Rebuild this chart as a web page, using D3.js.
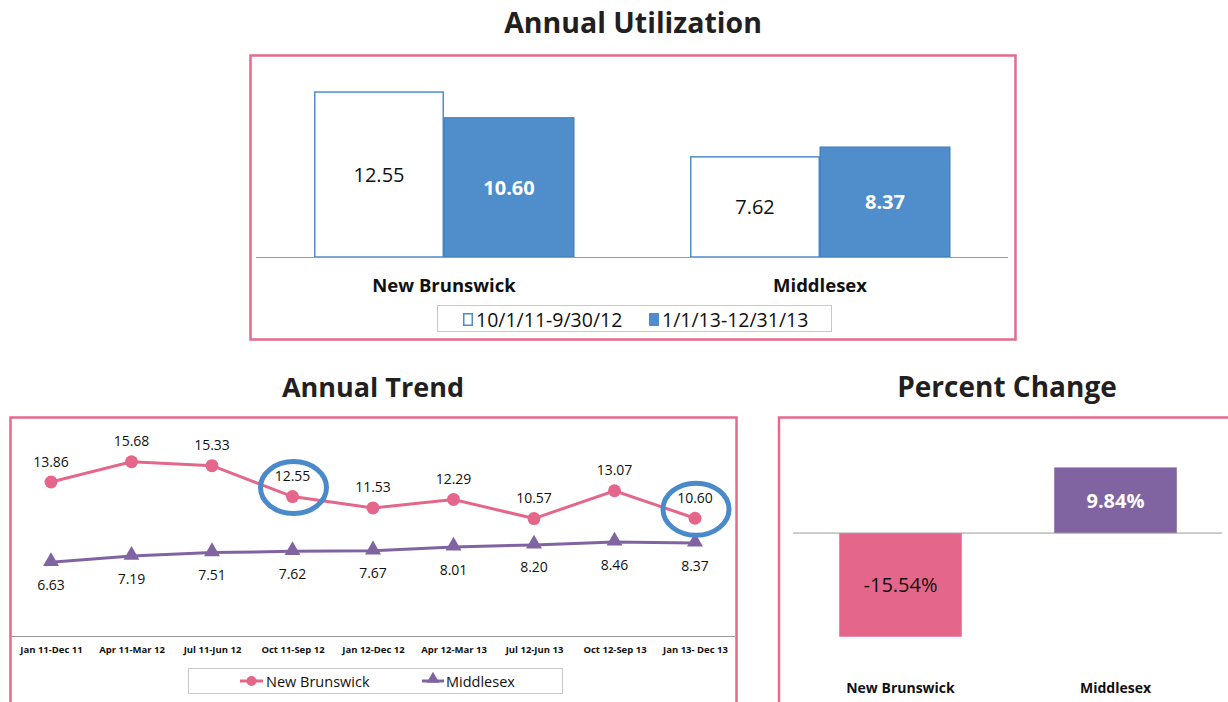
<!DOCTYPE html>
<html>
<head>
<meta charset="utf-8">
<script src="https://cdn.jsdelivr.net/npm/d3@7"></script>
<style>
  html, body { margin: 0; padding: 0; background: #fff; }
  svg { display: block; }
  text { font-family: "Open Sans", "Noto Sans", sans-serif; }
</style>
</head>
<body>
<svg id="chart" width="1228" height="702"></svg>
<script>
// ---- Data ----
const utilRegions = ["New Brunswick", "Middlesex"];
const utilPeriods = ["10/1/11-9/30/12", "1/1/13-12/31/13"];
const utilPrior = [12.55, 7.62];
const utilCurrent = [10.60, 8.37];

const trendPeriods = ["Jan 11-Dec 11", "Apr 11-Mar 12", "Jul 11-Jun 12", "Oct 11-Sep 12",
  "Jan 12-Dec 12", "Apr 12-Mar 13", "Jul 12-Jun 13", "Oct 12-Sep 13", "Jan 13- Dec 13"];
const trendNewBrunswick = [13.86, 15.68, 15.33, 12.55, 11.53, 12.29, 10.57, 13.07, 10.60];
const trendMiddlesex = [6.63, 7.19, 7.51, 7.62, 7.67, 8.01, 8.20, 8.46, 8.37];
const highlightedPeriods = ["Oct 11-Sep 12", "Jan 13- Dec 13"];

const changeRegions = ["New Brunswick", "Middlesex"];
const changeValues = [-15.54, 9.84];

// ---- Styles ----
const PINK = "#e4678b";
const FRAME = "#e46a8e";
const BLUE = "#4f8dcb";
const PURPLE = "#8064a2";
const RING = "#4a8acb";
const AXIS = "#9a9a9a";

const svg = d3.select("#chart");

function title(txt, x, y, size) {
  svg.append("text").attr("x", x).attr("y", y)
    .attr("text-anchor", "middle").attr("dominant-baseline", "central")
    .attr("font-weight", 700).attr("font-size", size).attr("fill", "#231f20")
    .text(txt);
}
function frame(x, y, w, h) {
  svg.append("rect").attr("x", x).attr("y", y).attr("width", w).attr("height", h)
    .attr("fill", "none").attr("stroke", FRAME).attr("stroke-width", 2.5);
}

// ================= Annual Utilization =================
title("Annual Utilization", 633, 22, 28.5);
frame(250.5, 55.5, 765, 284);

const u = svg.append("g");
const ux = d3.scaleBand().domain(utilRegions).range([256, 1008]);
const uy = d3.scaleLinear().domain([0, 14]).range([257, 73]);
const ubar = 130;

utilRegions.forEach((r, i) => {
  const cx = ux(r) + ux.bandwidth() / 2;
  // prior period: hollow bar
  u.append("rect").attr("x", cx - ubar + 0.75).attr("y", uy(utilPrior[i]))
    .attr("width", ubar - 1.5).attr("height", uy(0) - uy(utilPrior[i]))
    .attr("fill", "#fff").attr("stroke", BLUE).attr("stroke-width", 1.5);
  u.append("text").attr("x", cx - ubar / 2).attr("y", (uy(utilPrior[i]) + uy(0)) / 2)
    .attr("text-anchor", "middle").attr("dominant-baseline", "central")
    .attr("font-size", 20).attr("fill", "#111")
    .text(utilPrior[i].toFixed(2));
  // current period: filled bar
  u.append("rect").attr("x", cx).attr("y", uy(utilCurrent[i]))
    .attr("width", ubar).attr("height", uy(0) - uy(utilCurrent[i]))
    .attr("fill", BLUE).attr("stroke", "#3f7dbd").attr("stroke-width", 1);
  u.append("text").attr("x", cx + ubar / 2).attr("y", (uy(utilCurrent[i]) + uy(0)) / 2)
    .attr("text-anchor", "middle").attr("dominant-baseline", "central")
    .attr("font-size", 20).attr("font-weight", 700).attr("fill", "#fff")
    .text(utilCurrent[i].toFixed(2));
});

u.append("line").attr("x1", 256).attr("x2", 1008).attr("y1", uy(0) + 0.5).attr("y2", uy(0) + 0.5)
  .attr("stroke", AXIS).attr("stroke-width", 1);

const uAxis = u.append("g").attr("transform", `translate(0,${uy(0)})`)
  .call(d3.axisBottom(ux).tickSize(0).tickPadding(20));
uAxis.select(".domain").remove();
uAxis.selectAll("text").attr("font-size", 18.5).attr("font-weight", 700).attr("fill", "#111")
  .attr("font-family", "'Open Sans', sans-serif").attr("dy", "0.32em").attr("y", 29);

// legend
const ul = u.append("g");
ul.append("rect").attr("x", 437.5).attr("y", 305.5).attr("width", 394).attr("height", 26)
  .attr("fill", "#fff").attr("stroke", "#c8c8c8");
const ulx = [463, 649];
utilPeriods.forEach((p, i) => {
  ul.append("rect").attr("x", ulx[i] + 0.75).attr("y", 313.75).attr("width", 8.5).attr("height", 11.5)
    .attr("fill", i === 0 ? "#fff" : BLUE).attr("stroke", BLUE).attr("stroke-width", 1.5);
  ul.append("text").attr("x", ulx[i] + 13).attr("y", 319.5).attr("dominant-baseline", "central")
    .attr("font-size", 19.5).attr("fill", "#111").text(p);
});

// ================= Annual Trend =================
title("Annual Trend", 373, 386, 27);
frame(10.5, 417.5, 726, 300);

const t = svg.append("g");
const tx = d3.scalePoint().domain(trendPeriods).range([51, 695]);
const ty = d3.scaleLinear().domain([0, 18]).range([636, 436]);

t.append("line").attr("x1", 11).attr("x2", 735).attr("y1", ty(0) + 0.5).attr("y2", ty(0) + 0.5)
  .attr("stroke", AXIS);
const tAxis = t.append("g").attr("transform", `translate(0,${ty(0)})`)
  .call(d3.axisBottom(tx).tickSize(0).tickPadding(10));
tAxis.select(".domain").remove();
tAxis.selectAll("text").attr("font-size", 9.5).attr("font-weight", 700).attr("fill", "#111")
  .attr("font-family", "'Open Sans', sans-serif");

const line = d3.line().x((d, i) => tx(trendPeriods[i])).y(d => ty(d));
t.append("path").datum(trendMiddlesex).attr("d", line)
  .attr("fill", "none").attr("stroke", PURPLE).attr("stroke-width", 3);
t.append("path").datum(trendNewBrunswick).attr("d", line)
  .attr("fill", "none").attr("stroke", PINK).attr("stroke-width", 3);

const tri = d3.symbol().type(d3.symbolTriangle).size(110);
t.selectAll(".mid").data(trendMiddlesex).join("path")
  .attr("transform", (d, i) => `translate(${tx(trendPeriods[i])},${ty(d) - 1})`)
  .attr("d", tri).attr("fill", PURPLE);
t.selectAll(".nb").data(trendNewBrunswick).join("circle")
  .attr("cx", (d, i) => tx(trendPeriods[i])).attr("cy", d => ty(d)).attr("r", 6.5)
  .attr("fill", PINK);

t.selectAll(".nbl").data(trendNewBrunswick).join("text")
  .attr("x", (d, i) => tx(trendPeriods[i])).attr("y", d => ty(d) - 21)
  .attr("text-anchor", "middle").attr("dominant-baseline", "central")
  .attr("font-size", 14).attr("fill", "#111").text(d => d.toFixed(2));
t.selectAll(".midl").data(trendMiddlesex).join("text")
  .attr("x", (d, i) => tx(trendPeriods[i])).attr("y", d => ty(d) + 22)
  .attr("text-anchor", "middle").attr("dominant-baseline", "central")
  .attr("font-size", 14).attr("fill", "#111").text(d => d.toFixed(2));

// highlight rings around selected New Brunswick values
highlightedPeriods.forEach(p => {
  const i = trendPeriods.indexOf(p);
  const v = trendNewBrunswick[i];
  t.append("ellipse").attr("cx", tx(p) + 1).attr("cy", ty(v) - 9)
    .attr("rx", 33).attr("ry", 26)
    .attr("fill", "none").attr("stroke", RING).attr("stroke-width", 5);
});

// legend
const tl = t.append("g");
tl.append("rect").attr("x", 188.5).attr("y", 668.5).attr("width", 374).attr("height", 25)
  .attr("fill", "#fff").attr("stroke", "#c8c8c8");
tl.append("line").attr("x1", 240).attr("x2", 263).attr("y1", 681).attr("y2", 681)
  .attr("stroke", PINK).attr("stroke-width", 3);
tl.append("circle").attr("cx", 251.5).attr("cy", 681).attr("r", 5).attr("fill", PINK);
tl.append("text").attr("x", 266).attr("y", 681).attr("dominant-baseline", "central")
  .attr("font-size", 14.5).attr("fill", "#111").text("New Brunswick");
tl.append("line").attr("x1", 422).attr("x2", 444).attr("y1", 681).attr("y2", 681)
  .attr("stroke", PURPLE).attr("stroke-width", 3);
tl.append("path").attr("transform", "translate(433,679)")
  .attr("d", d3.symbol().type(d3.symbolTriangle).size(70)).attr("fill", PURPLE);
tl.append("text").attr("x", 446).attr("y", 681).attr("dominant-baseline", "central")
  .attr("font-size", 14.5).attr("fill", "#111").text("Middlesex");

// ================= Percent Change =================
title("Percent Change", 1007, 386, 28);
frame(779, 417.5, 460, 300);

const c = svg.append("g");
const cx = d3.scaleBand().domain(changeRegions).range([793, 1223]).paddingInner(0.43).paddingOuter(0.215);
const cy = d3.scaleLinear().domain([-20, 15]).range([666.5, 433]);
const changeColors = [PINK, PURPLE];

c.selectAll(".cb").data(changeValues).join("rect")
  .attr("x", (d, i) => cx(changeRegions[i]))
  .attr("y", d => cy(Math.max(0, d)))
  .attr("width", cx.bandwidth())
  .attr("height", d => Math.abs(cy(d) - cy(0)))
  .attr("fill", (d, i) => changeColors[i]);
c.append("line").attr("x1", 793).attr("x2", 1222).attr("y1", cy(0)).attr("y2", cy(0))
  .attr("stroke", AXIS);
c.selectAll(".cl").data(changeValues).join("text")
  .attr("x", (d, i) => cx(changeRegions[i]) + cx.bandwidth() / 2)
  .attr("y", d => (cy(d) + cy(0)) / 2)
  .attr("text-anchor", "middle").attr("dominant-baseline", "central")
  .attr("font-size", 20)
  .attr("font-weight", d => d < 0 ? 400 : 700)
  .attr("fill", d => d < 0 ? "#111" : "#fff")
  .text(d => d.toFixed(2) + "%");
c.selectAll(".cn").data(changeRegions).join("text")
  .attr("x", d => cx(d) + cx.bandwidth() / 2).attr("y", 687)
  .attr("text-anchor", "middle").attr("dominant-baseline", "central")
  .attr("font-size", 14).attr("font-weight", 700).attr("fill", "#111")
  .text(d => d);
</script>
</body>
</html>
